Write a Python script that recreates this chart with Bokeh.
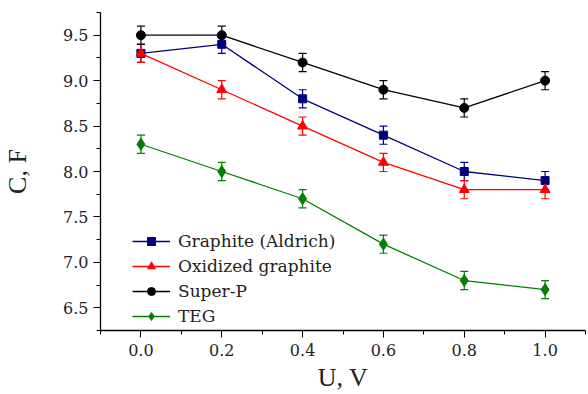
from bokeh.plotting import figure
from bokeh.models import (ColumnDataSource, Whisker, TeeHead, Legend, LegendItem, Range1d,
                          FixedTicker, CustomJSTickFormatter)
from bokeh.embed import file_html
from bokeh.resources import INLINE

voltage = [0.0, 0.2, 0.4, 0.6, 0.8, 1.0]
graphite = [9.3, 9.4, 8.8, 8.4, 8.0, 7.9]
oxidized = [9.3, 8.9, 8.5, 8.1, 7.8, 7.8]
superp = [9.5, 9.5, 9.2, 8.9, 8.7, 9.0]
teg = [8.3, 8.0, 7.7, 7.2, 6.8, 6.7]
err = 0.1
series_names = ["Graphite (Aldrich)", "Oxidized graphite", "Super-P", "TEG"]

styles = [
    ("#00007f", "square", 8),
    ("#ff0000", "triangle", 10),
    ("#000000", "circle", 9),
    ("#007f00", "diamond", 12),
]

BIG = "Liberation Serif"
SMALL = "DejaVu Serif"
p = figure(width=586, height=394, output_backend="svg", toolbar_location=None,
           x_range=Range1d(-0.1, 1.1), y_range=Range1d(6.25, 9.75),
           min_border_left=99, min_border_right=1, min_border_top=12, min_border_bottom=64)
p.outline_line_color = None
p.grid.visible = False
p.background_fill_color = "white"

items = []
for name, vals, (col, mk, sz) in zip(series_names, [graphite, oxidized, superp, teg], styles):
    src = ColumnDataSource(dict(x=voltage, y=vals,
                                lo=[v - err for v in vals], hi=[v + err for v in vals]))
    w = Whisker(source=src, base="x", lower="lo", upper="hi", line_color=col, line_width=1.2,
                upper_head=TeeHead(size=8, line_color=col, line_width=1.2),
                lower_head=TeeHead(size=8, line_color=col, line_width=1.2))
    p.add_layout(w)
    ln = p.line("x", "y", source=src, line_color=col, line_width=1.3)
    sc = p.scatter("x", "y", source=src, marker=mk, size=sz, fill_color=col, line_color=col)
    items.append(LegendItem(label=name, renderers=[ln, sc]))

leg = Legend(items=items, location=(32, 4), background_fill_alpha=0, border_line_color=None,
             label_text_font=SMALL, label_text_font_size="17px", label_text_color="#222222",
             glyph_width=38, spacing=4, label_standoff=8, padding=4, margin=0, label_height=21)
p.add_layout(leg, "center")

for ax in (p.xaxis, p.yaxis):
    ax.axis_line_width = 1.3
    ax.major_tick_out = 7
    ax.major_tick_in = 0
    ax.minor_tick_out = 4
    ax.minor_tick_in = 0
    ax.major_label_text_font = SMALL
    ax.major_label_text_font_size = "16px"
    ax.major_label_text_color = "#222222"
    ax.axis_label_text_font = BIG
    ax.axis_label_text_font_size = "26px"
    ax.axis_label_text_font_style = "normal"
    ax.axis_label_text_color = "#222222"

p.xaxis.ticker = FixedTicker(ticks=[0.0, 0.2, 0.4, 0.6, 0.8, 1.0],
                             minor_ticks=[-0.1, 0.1, 0.3, 0.5, 0.7, 0.9, 1.1])
p.yaxis.ticker = FixedTicker(ticks=[6.5, 7.0, 7.5, 8.0, 8.5, 9.0, 9.5],
                             minor_ticks=[6.25, 6.75, 7.25, 7.75, 8.25, 8.75, 9.25, 9.75])
p.xaxis.formatter = CustomJSTickFormatter(code="return tick.toFixed(1);")
p.yaxis.formatter = CustomJSTickFormatter(code="return tick.toFixed(1);")
p.xaxis.axis_label = "U, V"
p.yaxis.axis_label = "C, F"
p.xaxis.axis_label_standoff = 4
p.xaxis.major_label_standoff = 6
p.yaxis.major_label_standoff = 5
p.yaxis.axis_label_standoff = 28

open("out.html", "w").write(file_html(p, INLINE))
